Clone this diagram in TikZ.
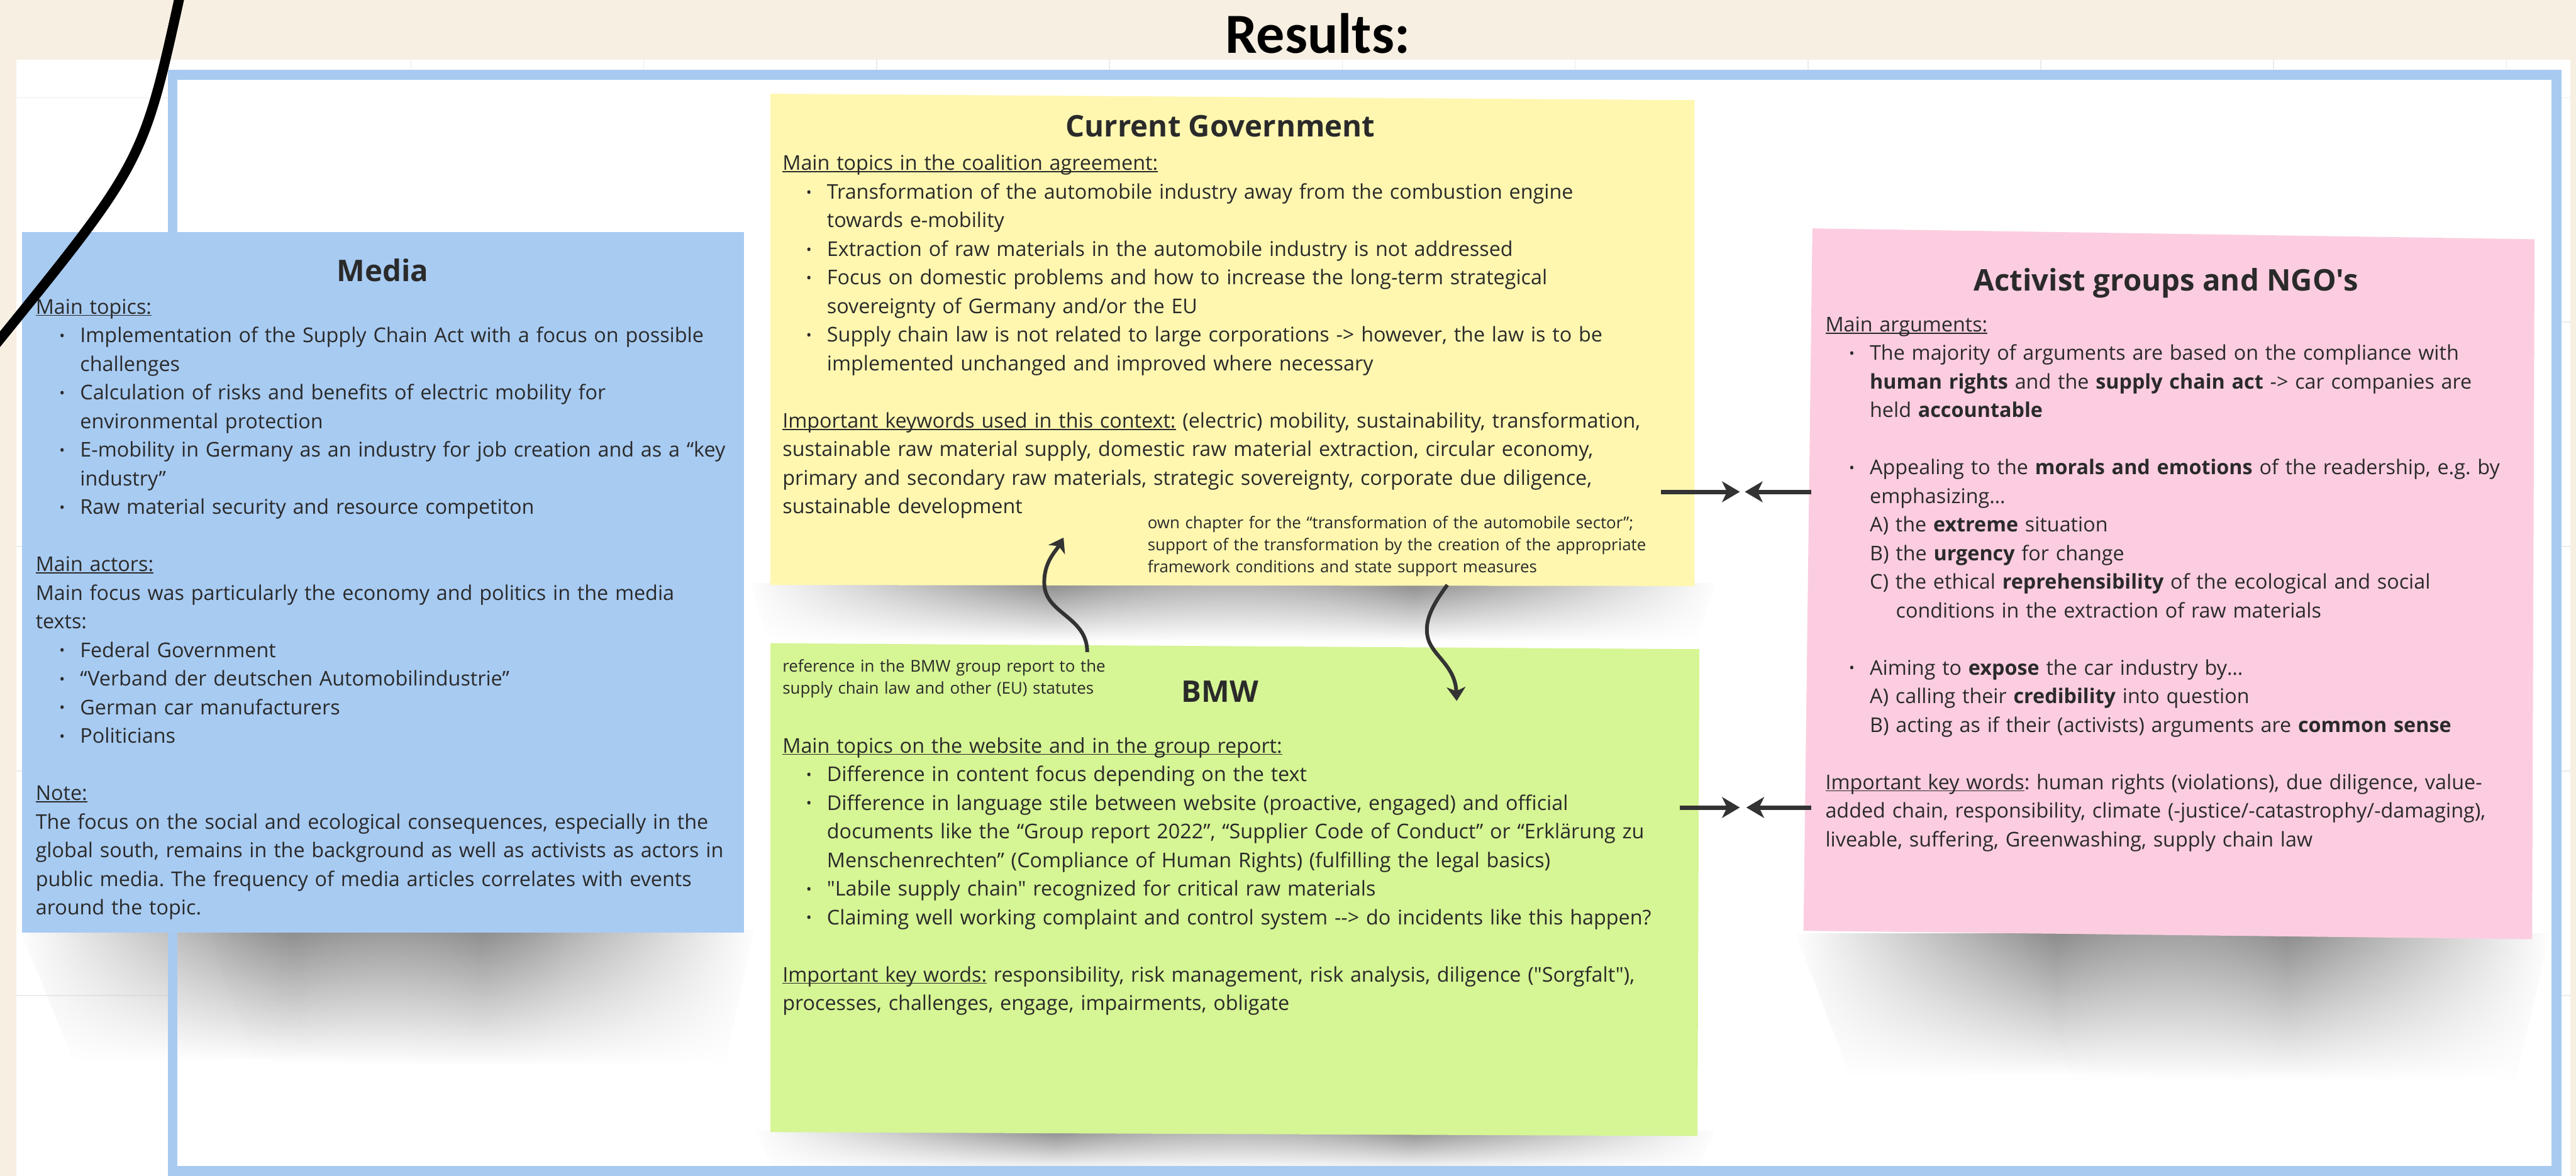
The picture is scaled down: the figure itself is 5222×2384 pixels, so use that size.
\documentclass[tikz,border=0pt]{standalone}
\usepackage{fontspec}
\setmainfont{Open Sans}[Ligatures=TeXOff]
\newfontfamily\resfont{Carlito}
\usetikzlibrary{arrows.meta,calc,fadings}
\definecolor{beige}{HTML}{F7EFE2}
\definecolor{gridc}{HTML}{ECECEC}
\definecolor{framec}{HTML}{A8CAF0}
\definecolor{mediac}{HTML}{A8CBF2}
\definecolor{yellowc}{HTML}{FFF7B0}
\definecolor{greenc}{HTML}{D6F594}
\definecolor{pinkc}{HTML}{FCCDE0}
\definecolor{txt}{HTML}{2A2A2A}
\definecolor{arr}{HTML}{333333}
\tikzfading[name=sidefade, left color=transparent!100, right color=transparent!100, middle color=transparent!0]
\setlength{\parindent}{0pt}
\frenchspacing
\newcommand{\bodyfont}{\fontsize{20.6pt}{29pt}\selectfont\frenchspacing}
\newcommand{\notefont}{\fontsize{16.5pt}{22.5pt}\selectfont\frenchspacing}
\newcommand{\titlefnt}{\fontsize{30.2pt}{36pt}\selectfont\bfseries}
\newcommand{\bulletmark}{\raisebox{1.5pt}{\fontsize{15pt}{15pt}\selectfont •}}
\newcommand{\bul}{\par\hangindent=45pt\hangafter=0\noindent\llap{\makebox[21pt][l]{\bulletmark}}}
\newcommand{\subl}{\par\hangindent=45pt\hangafter=0\noindent}
\newcommand{\blankline}{\par\vspace{\baselineskip}}
\newcommand{\firstline}{\rule{0pt}{20pt}}
\newcommand{\firstnote}{\rule{0pt}{15pt}}
\newcommand{\ul}[1]{\leavevmode\setbox0\hbox{#1}\rlap{\rule[-2pt]{\wd0}{1pt}}\box0\relax}
\begin{document}
\begin{tikzpicture}[x=0.5pt,y=-0.5pt,
  stickybox/.style={draw=none, inner sep=0pt, anchor=north west},
  ttl/.style={anchor=base, inner sep=0pt, font=\titlefnt, text=txt},
  body/.style={anchor=north west, inner sep=0pt, text width=1000pt, align=left, font=\bodyfont, text=txt},
  notetext/.style={anchor=north west, inner sep=0pt, text width=600pt, align=left, font=\notefont, text=txt},
  conn/.style={draw=arr, line width=4.5pt, -{Stealth[length=18pt,width=21pt,inset=5pt]}},
  curv/.style={draw=arr, line width=3.8pt, -{Stealth[length=14pt,width=19pt,inset=4pt]}},
  shadowbox/.style={top color=black!45, bottom color=white, draw=none, path fading=sidefade}
]
\useasboundingbox (0,0) rectangle (5222,2384);
% background
\fill[beige] (0,0) rectangle (5222,2384);
\fill[white] (33,121) rectangle (5210,2384);
\foreach \gx in {833,1305,...,5081} \draw[gridc, line width=1pt] (\gx,121) -- (\gx,2384);
\foreach \gy in {198,653,1108,1563,2018} \draw[gridc, line width=1pt] (33,\gy) -- (5210,\gy);
\fill[white] (350,152) rectangle (5182,2374);
% shadows (two soft overlapping halves each)
\shade[shadowbox] (40,1884) -- (1150,1884) -- (1100,2150) -- (150,2150) -- cycle;
\shade[shadowbox] (420,1884) -- (1530,1884) -- (1470,2160) -- (520,2160) -- cycle;
\shade[shadowbox] (1520,1182) -- (2750,1182) -- (2730,1300) -- (1560,1300) -- cycle;
\shade[shadowbox] (2250,1182) -- (3480,1182) -- (3440,1300) -- (2270,1300) -- cycle;
\shade[shadowbox] (3640,1892) -- (4700,1892) -- (4650,2180) -- (3750,2180) -- cycle;
\shade[shadowbox] (4100,1892) -- (5170,1892) -- (5100,2190) -- (4200,2190) -- cycle;
\shade[shadowbox] (1530,2292) -- (2750,2292) -- (2730,2372) -- (1570,2372) -- cycle;
\shade[shadowbox] (2250,2292) -- (3480,2292) -- (3440,2372) -- (2270,2372) -- cycle;
% frame
\draw[framec, line width=10pt] (350,152) rectangle (5182,2374);
% title
\node[anchor=base, inner sep=0pt, font={\resfont\fontsize{57.5pt}{60pt}\selectfont\bfseries}, text=black] (results) at (2671,108) {Results:};
% boxes (named nodes; sticky-note paper drawn as slightly skewed shapes)
\node[stickybox, minimum width=731pt, minimum height=709.5pt] (media) at (45,471) {};
\node[stickybox, minimum width=936.5pt, minimum height=497.5pt] (yellow) at (1562,193) {};
\node[stickybox, minimum width=941.5pt, minimum height=496pt] (green) at (1562,1308) {};
\node[stickybox, minimum width=731.5pt, minimum height=716.5pt] (pink) at (3672,465) {};
\fill[mediac] (media.north west) rectangle (media.south east);
\fill[yellowc] (1562,190) -- (3435,203) -- (3435,1188) -- (1562,1186) -- cycle;
\fill[greenc] (1562,1304) -- (3445,1316) -- (3441,2303) -- (1562,2295) -- cycle;
\fill[pinkc] (3674,463) -- (5138,485) -- (5133,1904) -- (3656,1887) -- cycle;
% titles
\node[ttl] (mediaT) at (776,570) {Media};
\node[ttl] (yellowT) at (2474,277) {Current Government};
\node[ttl] (greenT) at (2473,1424) {BMW};
\node[ttl] (pinkT) at (4391,590) {Activist groups and NGO's};
% media text
\node[body] (mediaB) at (72,596) {\firstline\ul{Main topics:}
\bul Implementation of the Supply Chain Act with a focus on possible\newline challenges
\bul Calculation of risks and benefits of electric mobility for\newline environmental protection
\bul E-mobility in Germany as an industry for job creation and as a “key\newline industry”
\bul Raw material security and resource competiton
\blankline
\ul{Main actors:}\par
Main focus was particularly the economy and politics in the media\newline texts:
\bul Federal Government
\bul “Verband der deutschen Automobilindustrie”
\bul German car manufacturers
\bul Politicians
\blankline
\ul{Note:}\par
The focus on the social and ecological consequences, especially in the\newline global south, remains in the background as well as activists as actors in\newline public media. The frequency of media articles correlates with events\newline around the topic.};
% yellow text
\node[body] (yellowB) at (1586,305) {\firstline\ul{Main topics in the coalition agreement:}
\bul Transformation of the automobile industry away from the combustion engine\newline towards e-mobility
\bul Extraction of raw materials in the automobile industry is not addressed
\bul Focus on domestic problems and how to increase the long-term strategical\newline sovereignty of Germany and/or the EU
\bul Supply chain law is not related to large corporations -> however, the law is to be\newline implemented unchanged and improved where necessary
\blankline
\ul{Important keywords used in this context:} (electric) mobility, sustainability, transformation,\newline sustainable raw material supply, domestic raw material extraction, circular economy,\newline primary and secondary raw materials, strategic sovereignty, corporate due diligence,\newline sustainable development};
\node[notetext] (yellowN) at (2326,1041) {\firstnote own chapter for the “transformation of the automobile sector”;\newline support of the transformation by the creation of the appropriate\newline framework conditions and state support measures};
% green text
\node[notetext] (greenN) at (1586,1332) {\firstnote reference in the BMW group report to the\newline supply chain law and other (EU) statutes};
\node[body] (greenB) at (1586,1486) {\firstline\ul{Main topics on the website and in the group report:}
\bul Difference in content focus depending on the text
\bul Difference in language stile between website (proactive, engaged) and official\newline documents like the “Group report 2022”, “Supplier Code of Conduct” or “Erklärung zu\newline Menschenrechten” (Compliance of Human Rights) (fulfilling the legal basics)
\bul "Labile supply chain" recognized for critical raw materials
\bul Claiming well working complaint and control system --> do incidents like this happen?
\blankline
\ul{Important key words:} responsibility, risk management, risk analysis, diligence ("Sorgfalt"),\newline processes, challenges, engage, impairments, obligate};
% pink text
\node[body] (pinkB) at (3700,632) {\firstline\ul{Main arguments:}
\bul The majority of arguments are based on the compliance with\newline \textbf{human rights} and the \textbf{supply chain act} -> car companies are\newline held \textbf{accountable}
\blankline
\bul Appealing to the \textbf{morals and emotions} of the readership, e.g. by\newline emphasizing…
\subl A) the \textbf{extreme} situation
\subl B) the \textbf{urgency} for change
\par\hangindent=71.5pt\hangafter=1\noindent\hspace*{45pt}C) the ethical \textbf{reprehensibility} of the ecological and social\newline conditions in the extraction of raw materials
\blankline
\bul Aiming to \textbf{expose} the car industry by…
\subl A) calling their \textbf{credibility} into question
\subl B) acting as if their (activists) arguments are \textbf{common sense}
\blankline
\ul{Important key words}: human rights (violations), due diligence, value-\newline added chain, responsibility, climate (-justice/-catastrophy/-damaging),\newline liveable, suffering, Greenwashing, supply chain law};
% connectors
\coordinate (t1) at (3527,997);
\coordinate (t2) at (3537,997);
\coordinate (t3) at (3527,1637);
\coordinate (t4) at (3540,1637);
\draw[conn] ($(yellow.east |- t1)+(-69,0)$) -- (t1);
\draw[conn] (pink.west |- t2) -- (t2);
\draw[conn] ($(green.east |- t3)+(-40,0)$) -- (t3);
\draw[conn] (pink.west |- t4) -- (t4);
\coordinate (gaS) at ($(green.north west)+(642,14)$);
\coordinate (gaE) at ($(yellow.south west)+(594,-99)$);
\coordinate (ybS) at ($(yellow.south west)+(1372,-3)$);
\coordinate (ybE) at ($(green.north west)+(1391,113)$);
\draw[curv] (gaS) .. controls (2204,1250) and (2120,1245) .. (2117,1185) .. controls (2115,1140) and (2140,1118) .. (gaE);
\draw[curv] (ybS) .. controls (2905,1225) and (2885,1260) .. (2895,1295) .. controls (2905,1330) and (2950,1350) .. (ybE);
% black pen stroke
\draw[black, line width=10pt, line cap=round] (365,-10) .. controls (290,330) .. (-10,700);
\end{tikzpicture}
\end{document}
